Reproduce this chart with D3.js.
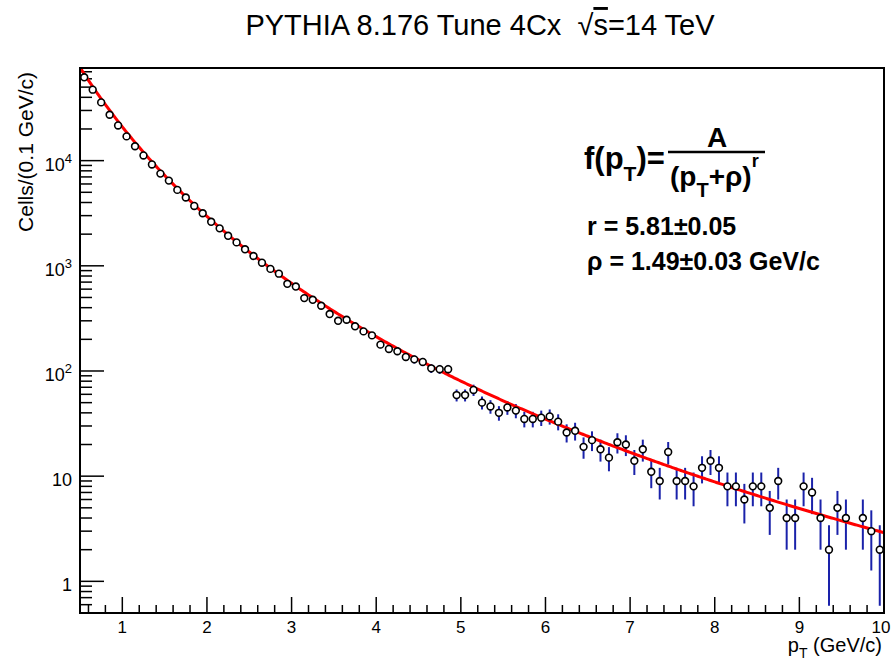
<!DOCTYPE html>
<html>
<head>
<meta charset="utf-8">
<script src="https://cdn.jsdelivr.net/npm/d3@7"></script>
<style>
  body { margin: 0; background: #fff; }
  svg { display: block; font-family: "Liberation Sans", Arial, Helvetica, sans-serif; }
</style>
</head>
<body>
<div id="chart"></div>
<script>
// bins of 0.1 GeV/c from 0.5 to 10 (bin centres)
var binLow = 0.5;
var binWidth = 0.1;
var counts = [
  62000, 47300, 35800, 27300, 21600, 17000, 13700, 11200, 9200, 7530,
  6460, 5270, 4460, 3710, 3160, 2620, 2270, 1930, 1670, 1435,
  1240, 1070, 935, 842, 674, 635, 493, 475, 417, 348,
  300, 307, 266, 238, 218, 178, 162, 154, 136, 129,
  122, 106, 104, 104, 59, 59, 66, 50, 46, 40,
  45, 42, 35, 35, 36, 37, 33, 26, 27, 19,
  22, 18, 15, 21, 20, 14, 18, 11, 9, 17,
  9, 9, 8, 12, 14, 12, 8, 8, 6, 8,
  8, 5, 9, 4, 4, 8, 7, 4, 2, 5,
  4, 0, 4, 3, 2
];
var xTickLabels = ["1", "2", "3", "4", "5", "6", "7", "8", "9", "10"];
var yDecades = [1, 10, 100, 1000, 10000];

// fit: A / (pT + rho)^r
var fitA = 4.2e6;
var fitR = 5.81;
var fitRho = 1.49;

var width = 891, height = 664;
var frame = { left: 80, right: 884, top: 68, bottom: 613 };

var svg = d3.select("#chart").append("svg")
    .attr("width", width)
    .attr("height", height);

var x = d3.scaleLinear().domain([0.5, 10]).range([frame.left, frame.right]);
var y = d3.scaleLog().domain([0.5, 7.6e4]).range([frame.bottom, frame.top]);

svg.append("clipPath").attr("id", "clip")
  .append("rect")
    .attr("x", frame.left).attr("y", frame.top)
    .attr("width", frame.right - frame.left)
    .attr("height", frame.bottom - frame.top);

// title
var title = svg.append("text")
    .attr("x", 480).attr("y", 35)
    .attr("text-anchor", "middle")
    .style("white-space", "pre")
    .style("font-size", "29px");
title.append("tspan").text("PYTHIA 8.176 Tune 4Cx  \u221A");
title.append("tspan").style("text-decoration", "overline").text("s");
title.append("tspan").text("=14 TeV");

// x ticks
var xMinor = d3.range(6, 100, 2).map(function(d) { return d / 10; })
    .filter(function(d) { return Math.abs(d - Math.round(d)) > 1e-6; });
var xMajor = d3.range(1, 11);

svg.append("g").selectAll("line.minor").data(xMinor).enter().append("line")
    .attr("x1", function(d) { return x(d); }).attr("x2", function(d) { return x(d); })
    .attr("y1", frame.bottom).attr("y2", frame.bottom - 8)
    .attr("stroke", "#000").attr("stroke-width", 1.5);
svg.append("g").selectAll("line.major").data(xMajor).enter().append("line")
    .attr("x1", function(d) { return x(d); }).attr("x2", function(d) { return x(d); })
    .attr("y1", frame.bottom).attr("y2", frame.bottom - 16)
    .attr("stroke", "#000").attr("stroke-width", 1.5);
svg.append("g").selectAll("text").data(xMajor).enter().append("text")
    .attr("x", function(d) { return d === 10 ? x(d) - 3 : x(d); })
    .attr("y", 633)
    .attr("text-anchor", "middle")
    .style("font-size", "17px")
    .text(function(d, i) { return xTickLabels[i]; });

// y ticks (log)
var yMinor = [];
[0.1, 1, 10, 100, 1000, 10000].forEach(function(dec) {
  for (var k = 2; k <= 9; k++) {
    var v = k * dec;
    if (v >= 0.5 && v <= 7.6e4) yMinor.push(v);
  }
});
svg.append("g").selectAll("line").data(yMinor).enter().append("line")
    .attr("x1", frame.left).attr("x2", frame.left + 12)
    .attr("y1", function(d) { return y(d); }).attr("y2", function(d) { return y(d); })
    .attr("stroke", "#000").attr("stroke-width", 1.5);
svg.append("g").selectAll("line").data(yDecades).enter().append("line")
    .attr("x1", frame.left).attr("x2", frame.left + 24)
    .attr("y1", function(d) { return y(d); }).attr("y2", function(d) { return y(d); })
    .attr("stroke", "#000").attr("stroke-width", 1.5);

var yLab = svg.append("g").selectAll("text").data(yDecades).enter().append("text")
    .attr("x", 72)
    .attr("y", function(d) { return y(d) + 10; })
    .attr("text-anchor", "end")
    .style("font-size", "18px");
yLab.each(function(d) {
  var t = d3.select(this);
  var e = Math.round(Math.log10(d));
  if (e <= 1) { t.text(String(d)); return; }
  t.append("tspan").text("10");
  t.append("tspan").attr("dy", -8).style("font-size", "13px").text(String(e));
});

// axis titles
svg.append("text")
    .attr("transform", "translate(33,72) rotate(-90)")
    .attr("text-anchor", "end")
    .style("font-size", "21px")
    .text("Cells/(0.1 GeV/c)");

var xt = svg.append("text")
    .attr("x", 882).attr("y", 652)
    .attr("text-anchor", "end")
    .style("font-size", "20px");
xt.append("tspan").text("p");
xt.append("tspan").attr("dy", 6).style("font-size", "14px").text("T");
xt.append("tspan").attr("dy", -6).text(" (GeV/c)");

// fit curve
var fitX = d3.range(0.5, 10.0001, 0.02);
var line = d3.line()
    .x(function(d) { return x(d); })
    .y(function(d) { return y(fitA / Math.pow(d + fitRho, fitR)); });

var plot = svg.append("g").attr("clip-path", "url(#clip)");

// histogram points with sqrt(N) errors
var pts = counts.map(function(c, i) {
  return { x: binLow + binWidth * (i + 0.5), v: c };
}).filter(function(d) { return d.v > 0; });

plot.selectAll("line.err").data(pts).enter().append("line")
    .attr("x1", function(d) { return x(d.x); })
    .attr("x2", function(d) { return x(d.x); })
    .attr("y1", function(d) { return y(d.v + Math.sqrt(d.v)); })
    .attr("y2", function(d) { return y(Math.max(d.v - Math.sqrt(d.v), 0.3)); })
    .attr("stroke", "#1a22aa")
    .attr("stroke-width", 2);

plot.append("path")
    .datum(fitX)
    .attr("d", line)
    .attr("fill", "none")
    .attr("stroke", "#ff0000")
    .attr("stroke-width", 3);

plot.selectAll("circle").data(pts).enter().append("circle")
    .attr("cx", function(d) { return x(d.x); })
    .attr("cy", function(d) { return y(d.v); })
    .attr("r", 3.4)
    .attr("fill", "#fff")
    .attr("stroke", "#000")
    .attr("stroke-width", 1.6);

// frame
svg.append("rect")
    .attr("x", frame.left).attr("y", frame.top)
    .attr("width", frame.right - frame.left)
    .attr("height", frame.bottom - frame.top)
    .attr("fill", "none")
    .attr("stroke", "#000")
    .attr("stroke-width", 2);

// fit formula
var f1 = svg.append("text").attr("x", 584).attr("y", 169)
    .style("font-size", "31px").style("font-weight", "bold");
f1.append("tspan").text("f(p");
f1.append("tspan").attr("dy", 12).style("font-size", "21px").text("T");
f1.append("tspan").attr("dy", -12).text(")=");

svg.append("line")
    .attr("x1", 668).attr("x2", 765)
    .attr("y1", 152).attr("y2", 152)
    .attr("stroke", "#000").attr("stroke-width", 2.5);

svg.append("text").attr("x", 717).attr("y", 147)
    .attr("text-anchor", "middle")
    .style("font-size", "28px").style("font-weight", "bold")
    .text("A");

var den = svg.append("text").attr("x", 670).attr("y", 186)
    .style("font-size", "28px").style("font-weight", "bold");
den.append("tspan").text("(p");
den.append("tspan").attr("dy", 11).style("font-size", "20px").text("T");
den.append("tspan").attr("dy", -11).text("+\u03C1)");
den.append("tspan").attr("dy", -19).style("font-size", "18px").text("r");

svg.append("text").attr("x", 587).attr("y", 235)
    .style("font-size", "25px").style("font-weight", "bold")
    .text("r = " + fitR.toFixed(2) + "\u00B10.05");
svg.append("text").attr("x", 587).attr("y", 270)
    .style("font-size", "25px").style("font-weight", "bold")
    .text("\u03C1 = " + fitRho.toFixed(2) + "\u00B10.03 GeV/c");
</script>
</body>
</html>
